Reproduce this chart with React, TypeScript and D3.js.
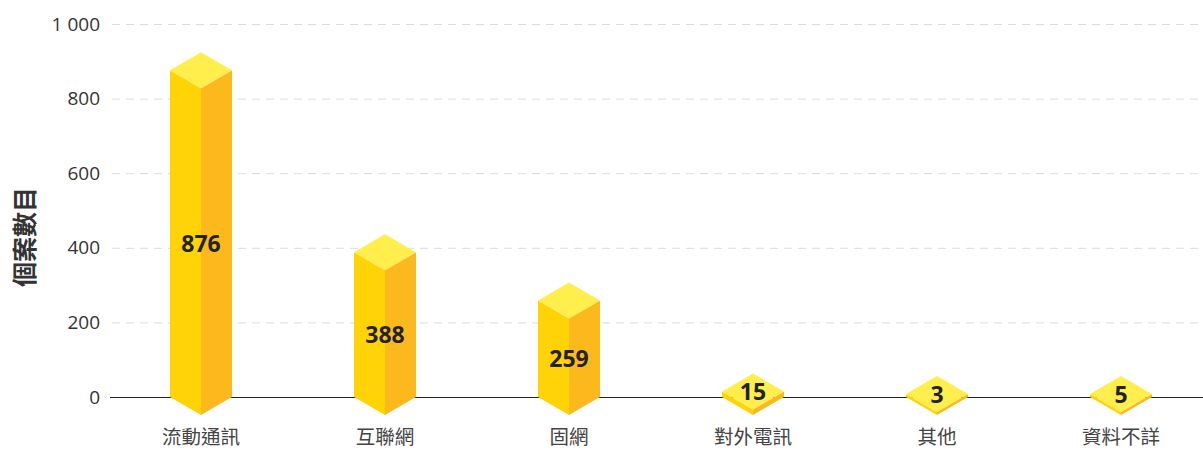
import React from "react";
import * as d3 from "d3";

const categories = ["流動通訊", "互聯網", "固網", "對外電訊", "其他", "資料不詳"];
const values = [876, 388, 259, 15, 3, 5];
const yTicks = [0, 200, 400, 600, 800, 1000];
const yTitle = "個案數目";

const W = 1203;
const H = 450;
const FONT = "'Open Sans', 'Noto Sans CJK TC', sans-serif";

export default function App() {
  const y = d3.scaleLinear().domain([0, 1000]).range([397, 24]);
  const x = d3.scaleBand<string>().domain(categories).range([109, 1213]).padding(0);
  const half = 31;
  const dep = 18;
  const y0 = y(0);
  const fmt = (v: number) => d3.format(",")(v).replace(/,/g, " ");

  return (
    <svg width={W} height={H} style={{ position: "absolute", left: 0, top: 0, background: "#fff" }}>
      {yTicks.map((t) => (
        <g key={t}>
          {t !== 0 && (
            <line x1={112} x2={W} y1={y(t) + 0.5} y2={y(t) + 0.5} stroke="#dcdcdc" strokeWidth={1} strokeDasharray="8,6" />
          )}
          <text x={100} y={y(t)} dy="0.35em" textAnchor="end" fontSize={19} fill="#333" fontFamily={FONT}>
            {fmt(t)}
          </text>
        </g>
      ))}
      <line x1={110} x2={W} y1={y0 + 0.5} y2={y0 + 0.5} stroke="#222" strokeWidth={1} />
      <text
        transform={`translate(25,${237}) rotate(-90)`}
        textAnchor="middle"
        dy="0.35em"
        fontSize={25}
        fontWeight="bold"
        fill="#333"
        fontFamily={FONT}
      >
        {yTitle}
      </text>
      {categories.map((c, i) => {
        const cx = (x(c) as number) + x.bandwidth() / 2;
        const yv = Math.min(y(values[i]), y0 - 3);
        const left = [
          [cx - half, yv],
          [cx, yv + dep],
          [cx, y0 + dep],
          [cx - half, y0],
        ];
        const right = [
          [cx + half, yv],
          [cx, yv + dep],
          [cx, y0 + dep],
          [cx + half, y0],
        ];
        const top = [
          [cx, yv - dep],
          [cx + half, yv],
          [cx, yv + dep],
          [cx - half, yv],
        ];
        const pts = (p: number[][]) => p.map((q) => q.join(",")).join(" ");
        const labelY = values[i] > 100 ? (yv + y0 + dep) / 2 + 1 : yv + 1;
        return (
          <g key={c}>
            <polygon points={pts(left)} fill="#FFD305" />
            <polygon points={pts(right)} fill="#FCB91D" />
            <polygon points={pts(top)} fill="#FFEE4C" />
            <text
              x={cx}
              y={labelY}
              dy="0.35em"
              textAnchor="middle"
              fontSize={23}
              fontWeight="bold"
              fill="#222"
              fontFamily={FONT}
            >
              {values[i]}
            </text>
            <text x={cx} y={437} dy="0.35em" textAnchor="middle" fontSize={19.5} fill="#444" fontFamily={FONT}>
              {c}
            </text>
          </g>
        );
      })}
    </svg>
  );
}
